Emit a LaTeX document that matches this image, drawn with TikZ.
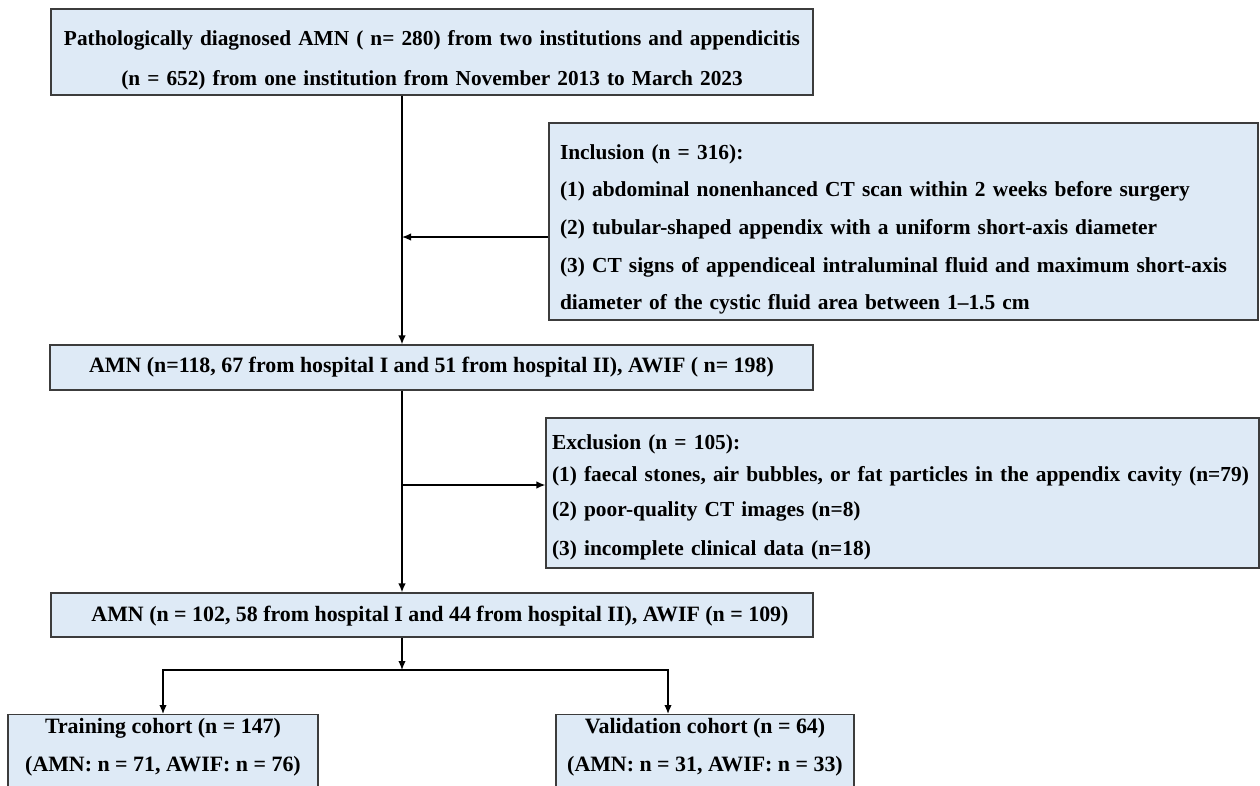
\documentclass[tikz,border=0pt]{standalone}
\usepackage{fontspec}
\setmainfont{Liberation Serif}
\usetikzlibrary{arrows.meta}
\definecolor{boxfill}{RGB}{222,234,246}
\definecolor{boxline}{RGB}{60,60,60}
\tikzset{
  flowbox/.style={draw=boxline, line width=1.3pt, fill=boxfill, inner sep=0pt,
    font=\fontsize{21.9}{38}\selectfont\bfseries},
  flowline/.style={line width=1.4pt, draw=black},
}
\begin{document}
\begin{tikzpicture}[x=1pt,y=-1pt,>={Latex[length=9pt,width=7.5pt]}]
  \useasboundingbox (0,0) rectangle (1260,785);
  \clip (0,0) rectangle (1260,785);
  \fill[white] (0,0) rectangle (1260,785);
%%
  % Node: Diagnosed
  \node[flowbox, minimum width=762pt, minimum height=86pt, inner xsep=1pt, text width=760pt,
    align=center, text height=30.6pt, font=\fontsize{21.3}{40}\selectfont\bfseries] (diag) at (432,52)
    {Pathologically diagnosed AMN ( n= 280) from two institutions and appendicitis\\
     (n = 652) from one institution from November 2013 to March 2023};
  % Node: Inclusion
  \node[flowbox, minimum width=709pt, minimum height=197pt, inner xsep=11pt, text height=30.5pt,
    text width=687pt, align=left, font=\fontsize{21.4}{37.7}\selectfont\bfseries] (incl) at (903.5,221.5)
    {Inclusion (n = 316):\\
     (1) abdominal nonenhanced CT scan within 2 weeks before surgery\\
     (2) tubular-shaped appendix with a uniform short-axis diameter\\
     (3) CT signs of appendiceal intraluminal fluid and maximum short-axis\\
     diameter of the cystic fluid area between 1--1.5 cm};
  % Node: Included
  \node[flowbox, minimum width=763pt, minimum height=45pt] (incd) at (431.5,367.5)
    {AMN (n=118, 67 from hospital I and 51 from hospital II), AWIF ( n= 198)};
  % Node: Exclusion
  \node[flowbox, minimum width=713pt, minimum height=150pt, inner xsep=6pt, text height=23.6pt,
    text width=701pt, align=left, font=\fontsize{21.4}{35}\selectfont\bfseries] (excl) at (902.5,493)
    {Exclusion (n = 105):\\[-3pt]
     (1) faecal stones, air bubbles, or fat particles in the appendix cavity (n=79)\\
     (2) poor-quality CT images (n=8)\\[4pt]
     (3) incomplete clinical data (n=18)};
  % Node: Pool
  \node[flowbox, minimum width=762pt, minimum height=44pt, text height=18.5pt] (pool) at (432,615)
    {\hspace*{16pt}AMN (n = 102, 58 from hospital I and 44 from hospital II), AWIF (n = 109)};
  % Node: Training
  \node[flowbox, anchor=north, minimum width=310pt, inner ysep=4pt, text depth=40pt,
    align=center] (train) at (163,714)
    {Training cohort (n = 147)\\(AMN: n = 71, AWIF: n = 76)};
  % Node: Validation
  \node[flowbox, anchor=north, minimum width=298pt, inner ysep=4pt, text depth=40pt,
    align=center] (valid) at (705,714)
    {Validation cohort (n = 64)\\(AMN: n = 31, AWIF: n = 33)};
%%
  \coordinate (trunk) at (402,0);
  \coordinate (split) at (402,670);
  \coordinate (vdrop) at (668,670);
  % Edge: Diagnosed -> Included
  \draw[flowline, ->] (diag.south -| trunk) -- (incd.north -| trunk);
  % Edge: Inclusion -> trunk
  \draw[flowline, ->] (incl.west |- 0,237) -- (trunk |- 0,237);
  % Edge: Included -> Pool
  \draw[flowline, ->] (incd.south -| trunk) -- (pool.north -| trunk);
  % Edge: trunk -> Exclusion
  \draw[flowline, ->] (trunk |- 0,485) -- (excl.west |- 0,485);
  % Edge: Pool -> split
  \draw[flowline, ->] (pool.south -| split) -- (split);
  % Edge: split -> Training
  \draw[flowline, ->] (split) -| (train.north);
  % Edge: split -> Validation
  \draw[flowline, ->] (split) -- (vdrop) -- (valid.north -| vdrop);
%
\end{tikzpicture}
\end{document}
